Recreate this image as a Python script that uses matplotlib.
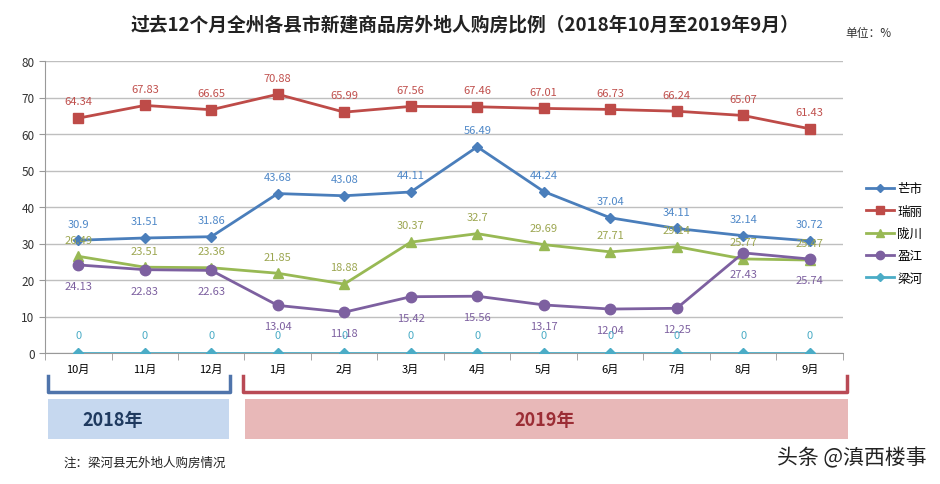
import matplotlib.pyplot as plt
import numpy as np
from matplotlib.patches import Rectangle
from matplotlib.lines import Line2D

plt.rcParams['font.family'] = ['Noto Sans CJK SC', 'DejaVu Sans']

months = ['10月', '11月', '12月', '1月', '2月', '3月', '4月', '5月', '6月', '7月', '8月', '9月']
names = ['芒市', '瑞丽', '陇川', '盈江', '梁河']

mangshi = [30.9, 31.51, 31.86, 43.68, 43.08, 44.11, 56.49, 44.24, 37.04, 34.11, 32.14, 30.72]
ruili = [64.34, 67.83, 66.65, 70.88, 65.99, 67.56, 67.46, 67.01, 66.73, 66.24, 65.07, 61.43]
longchuan = [26.49, 23.51, 23.36, 21.85, 18.88, 30.37, 32.7, 29.69, 27.71, 29.14, 25.77, 25.47]
yingjiang = [24.13, 22.83, 22.63, 13.04, 11.18, 15.42, 15.56, 13.17, 12.04, 12.25, 27.43, 25.74]
lianghe = [0, 0, 0, 0, 0, 0, 0, 0, 0, 0, 0, 0]

series = [mangshi, ruili, longchuan, yingjiang, lianghe]
line_colors = ['#4A7EBB', '#BE4B48', '#98B954', '#7D60A0', '#4BACC6']
label_colors = ['#4F88C8', '#C0504D', '#9CA650', '#7D60A0', '#4BACC6']
markers = ['D', 's', '^', 'o', 'D']
msizes = [5, 7.5, 7, 7.5, 5]
offsets = [12, 12, 12, -15, 13]

fig = plt.figure(figsize=(9.4, 4.85), dpi=100)
ax = fig.add_axes([45 / 940, 1 - 354 / 485, 798 / 940, 292 / 485])

x = np.arange(len(months))
for vals, name, lc, tc, mk, ms, off in zip(series, names, line_colors, label_colors, markers, msizes, offsets):
    ax.plot(x, vals, color=lc, lw=2, marker=mk, ms=ms, label=name, zorder=3)
    for xi, v in zip(x, vals):
        ax.annotate(f'{v:g}', (xi, v), xytext=(0, off), textcoords='offset points',
                    ha='center', va='center', fontsize=8, color=tc, zorder=4)

ax.set_xlim(-0.5, 11.5)
ax.set_ylim(0, 80)
ax.set_yticks(range(0, 81, 10))
ax.set_xticks(x)
ax.set_xticklabels(months)
ax.set_xticks(np.arange(-0.5, 12, 1), minor=True)
ax.tick_params(axis='x', which='major', length=0, labelsize=8, pad=8)
ax.tick_params(axis='x', which='minor', length=5, color='#999999')
ax.tick_params(axis='y', length=4, color='#999999', labelsize=8.5, labelcolor='#333333')
ax.yaxis.grid(True, color='#BFBFBF', lw=1)
ax.set_axisbelow(True)
for s in ['top', 'right']:
    ax.spines[s].set_visible(False)
ax.spines['left'].set_color('#999999')
ax.spines['bottom'].set_color('#999999')

handles = [Line2D([0], [0], color=c, lw=2, marker=m, ms=s * 0.8) for c, m, s in zip(line_colors, markers, msizes)]
fig.legend(handles, names, loc='upper left', bbox_to_anchor=(855 / 940, 1 - 172 / 485),
           frameon=False, fontsize=9, handlelength=2.2, labelspacing=0.75, handletextpad=0.3)

fig.text(465 / 940, 1 - 25 / 485, '过去12个月全州各县市新建商品房外地人购房比例（2018年10月至2019年9月）',
         ha='center', va='center', fontsize=13.5, fontweight='bold', color='#222222')
fig.text(845 / 940, 1 - 33 / 485, '单位：%', ha='left', va='center', fontsize=8.5, color='#333333')


def px(xp, yp):
    return xp / 940, 1 - yp / 485


# brackets
for x0, x1, col in [(48, 230, '#4F74AB'), (243, 847, '#B94A55')]:
    xs = [px(x0, 377)[0], px(x0, 393)[0], px(x1, 393)[0], px(x1, 377)[0]]
    ys = [px(x0, 377)[1], px(x0, 393)[1], px(x1, 393)[1], px(x1, 377)[1]]
    fig.add_artist(Line2D(xs, ys, color=col, lw=2.5, transform=fig.transFigure))

# year boxes
fig.add_artist(Rectangle(px(48, 440), 181 / 940, 40 / 485, transform=fig.transFigure,
                         facecolor='#C6D8EF', edgecolor='none'))
fig.add_artist(Rectangle(px(245, 440), 603 / 940, 40 / 485, transform=fig.transFigure,
                         facecolor='#E8B8B8', edgecolor='none'))
fig.text(*px(113, 420), '2018年', ha='center', va='center', fontsize=13, fontweight='bold', color='#1F3A5F')
fig.text(*px(545, 420), '2019年', ha='center', va='center', fontsize=13, fontweight='bold', color='#9B2D35')

fig.text(*px(63, 463), '注：梁河县无外地人购房情况', ha='left', va='center', fontsize=9, color='#222222')
fig.text(*px(927, 458), '头条 @滇西楼事', ha='right', va='center', fontsize=15, fontweight='medium', color='#222222')

fig.savefig('out.png', dpi=100)
